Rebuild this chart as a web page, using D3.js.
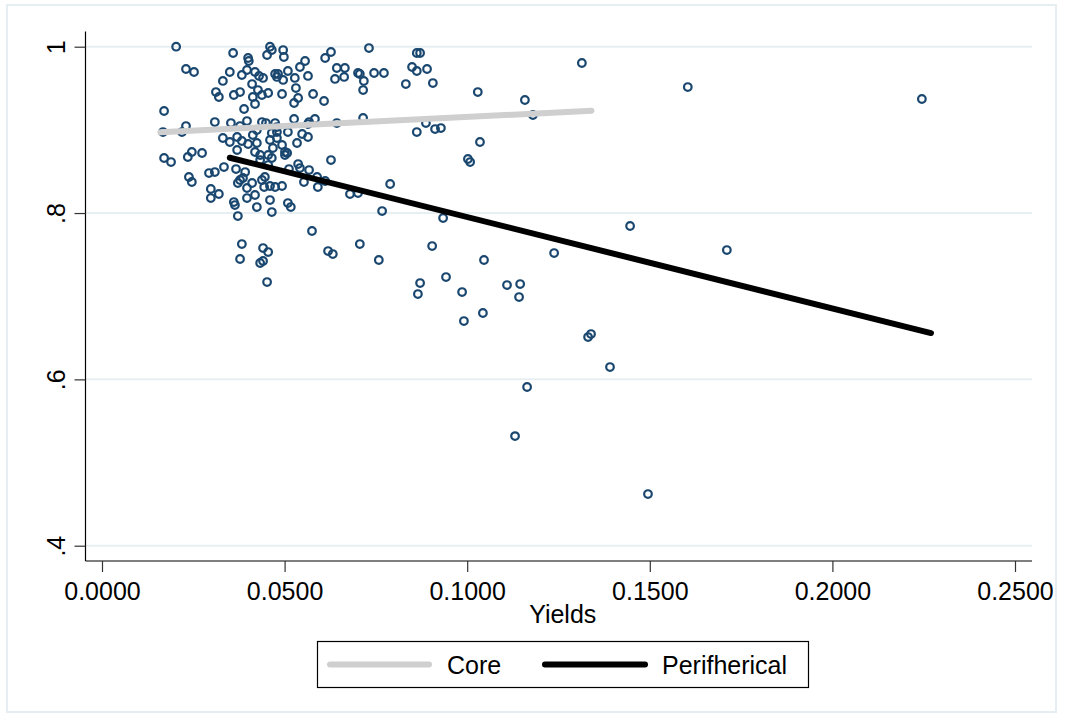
<!DOCTYPE html>
<html>
<head>
<meta charset="utf-8">
<script src="https://cdn.jsdelivr.net/npm/d3@7"></script>
<style>
  html, body { margin: 0; padding: 0; background: #ffffff; }
  svg { display: block; font-family: "Liberation Sans", Arial, Helvetica, sans-serif; }
</style>
</head>
<body>
<svg id="chart" width="1074" height="720"></svg>
<script>
// ---------------- data ----------------
const pointYields = [
  0.0203,0.0359,0.0400,0.0402,0.0460,0.0465,0.0452,0.0496,0.0498,0.0556,
  0.0542,0.0611,0.0627,0.0731,0.0230,0.0252,0.0350,0.0331,0.0383,0.0397,
  0.0419,0.0430,0.0441,0.0411,0.0427,0.0413,0.0438,0.0455,0.0474,0.0482,
  0.0479,0.0509,0.0496,0.0528,0.0564,0.0643,0.0665,0.0663,0.0638,0.0706,
  0.0701,0.0717,0.0715,0.0745,0.0772,0.0312,0.0320,0.0361,0.0378,0.0493,
  0.0531,0.0537,0.0526,0.0578,0.0608,0.0832,0.0862,0.0871,0.0849,0.0862,
  0.0890,0.0906,0.1314,0.1029,0.1604,0.2245,0.0389,0.0419,0.0170,
  0.0309,0.0230,0.0219,0.0167,0.0353,0.0378,0.0397,0.0438,0.0449,0.0474,
  0.0479,0.0526,0.0567,0.0583,0.0564,0.0643,0.0715,0.0331,0.0350,0.0370,
  0.0383,0.0400,0.0413,0.0424,0.0465,0.0460,0.0479,0.0479,0.0509,0.0548,
  0.0564,0.0370,0.0419,0.0433,0.0455,0.0424,0.0468,0.0493,0.0501,0.0534,
  0.0507,0.0170,0.0189,0.0235,0.0246,0.0274,0.0862,0.0887,0.0912,0.0928,
  0.1035,0.1002,0.1008,0.1158,0.1180,0.0627,0.0465,0.0501,
  0.0537,0.0542,0.0512,0.0567,0.0589,0.0591,0.0553,0.0611,0.0679,0.0701,
  0.0789,0.0474,0.0493,0.0238,0.0246,0.0293,0.0309,0.0334,0.0298,0.0298,
  0.0320,0.0367,0.0378,0.0392,0.0386,0.0372,0.0397,0.0419,0.0397,0.0411,
  0.0438,0.0444,0.0460,0.0446,0.0455,0.0433,0.0361,0.0364,0.0372,0.0424,
  0.0460,0.0465,0.0509,0.0517,0.0767,0.0934,0.1446,0.0575,0.0383,0.0378,
  0.0441,0.0455,0.0441,0.0433,0.0452,0.0619,0.0632,0.0706,0.0758,0.0904,
  0.1046,0.1238,0.1711,0.0871,0.0865,0.0942,0.0986,0.1109,0.1145,0.1142,
  0.1043,0.0991,0.1331,0.1339,0.1391,0.1164,0.1131,0.1495
];
const pointValues = [
  1.000,0.9924,0.9864,0.9828,1.000,0.9960,0.9900,0.9960,0.9876,0.9828,
  0.9756,0.9864,0.9936,0.9984,0.9732,0.9696,0.9696,0.9588,0.9660,0.9720,
  0.9696,0.9648,0.9624,0.9551,0.9479,0.9395,0.9419,0.9443,0.9672,0.9672,
  0.9636,0.9708,0.9600,0.9624,0.9648,0.9744,0.9744,0.9636,0.9612,0.9672,
  0.9684,0.9588,0.9479,0.9684,0.9684,0.9455,0.9395,0.9419,0.9455,0.9431,
  0.9503,0.9383,0.9323,0.9431,0.9347,0.9551,0.9924,0.9924,0.9756,0.9708,
  0.9732,0.9563,0.9804,0.9455,0.9515,0.9371,0.9251,0.9311,0.9227,
  0.9094,0.9046,0.8974,0.8974,0.9082,0.9046,0.9106,0.9094,0.9082,0.9082,
  0.9034,0.9131,0.9094,0.9131,0.9070,0.9082,0.9143,0.8902,0.8854,0.8914,
  0.8866,0.8830,0.8938,0.8998,0.8962,0.8878,0.8902,0.8974,0.8974,0.8950,
  0.8914,0.8758,0.8734,0.8698,0.8698,0.8842,0.8782,0.8818,0.8734,0.8842,
  0.8722,0.8662,0.8613,0.8674,0.8734,0.8722,0.8974,0.9082,0.9010,0.9022,
  0.8854,0.8650,0.8613,0.9359,0.9179,0.8637,0.8662,0.8698,
  0.8589,0.8541,0.8529,0.8517,0.8433,0.8313,0.8373,0.8385,0.8229,0.8241,
  0.8349,0.8313,0.8325,0.8433,0.8373,0.8481,0.8493,0.8553,0.8289,0.8180,
  0.8229,0.8529,0.8397,0.8493,0.8421,0.8361,0.8301,0.8217,0.8180,0.8361,
  0.8397,0.8313,0.8325,0.8433,0.8577,0.8637,0.8132,0.8096,0.7964,0.8072,
  0.8156,0.8012,0.8120,0.8072,0.8024,0.7940,0.7844,0.7784,0.7627,0.7447,
  0.7579,0.7531,0.7423,0.7399,0.7170,0.7543,0.7507,0.7627,0.7435,0.7603,
  0.7435,0.7519,0.7555,0.7158,0.7026,0.7230,0.7050,0.7134,0.7146,0.6990,
  0.6798,0.6701,0.6509,0.6545,0.6148,0.5908,0.5318,0.4621
];

const seriesNames = ["Core", "Perifherical"];
const coreLineX = [0.0160, 0.1340];
const coreLineY = [0.8971, 0.9230];
const periphLineX = [0.0350, 0.2270];
const periphLineY = [0.8665, 0.6557];

const xTickValues = [0, 0.05, 0.10, 0.15, 0.20, 0.25];
const xTickLabels = ["0.0000", "0.0500", "0.1000", "0.1500", "0.2000", "0.2500"];
const yTickValues = [0.4, 0.6, 0.8, 1.0];
const yTickLabels = [".4", ".6", ".8", "1"];
const xAxisTitle = "Yields";

// ---------------- layout ----------------
const plot = { left: 85.5, right: 1032, top: 31.5, bottom: 561 };
const markerColor = "#1a476f";
const coreColor = "#cfcfcf";
const periphColor = "#000000";
const gridColor = "#e8eff2";
const fontSize = 25;

const svg = d3.select("#chart");

// outer frame
svg.append("rect")
  .attr("x", 7).attr("y", 5).attr("width", 1049).attr("height", 707)
  .attr("fill", "#ffffff").attr("stroke", "#e6eef2").attr("stroke-width", 2);

const x = d3.scaleLinear().domain([0, 0.25]).range([102, 1015]);
const y = d3.scaleLinear().domain([0.4, 1.0]).range([545.7, 46.7]);

// gridlines
svg.append("g").selectAll("line")
  .data(yTickValues).join("line")
  .attr("x1", plot.left).attr("x2", plot.right)
  .attr("y1", d => y(d)).attr("y2", d => y(d))
  .attr("stroke", gridColor).attr("stroke-width", 2);

// axes lines
svg.append("line")
  .attr("x1", plot.left).attr("x2", plot.left)
  .attr("y1", plot.top).attr("y2", plot.bottom)
  .attr("stroke", "#000").attr("stroke-width", 1.2);
svg.append("line")
  .attr("x1", plot.left).attr("x2", plot.right)
  .attr("y1", plot.bottom).attr("y2", plot.bottom)
  .attr("stroke", "#000").attr("stroke-width", 1.2);

// x axis
const xAxis = d3.axisBottom(x)
  .tickValues(xTickValues)
  .tickFormat((d, i) => xTickLabels[i])
  .tickSize(11).tickPadding(4).tickSizeOuter(0);
const gx = svg.append("g")
  .attr("transform", `translate(0,${plot.bottom})`)
  .call(xAxis);
gx.select(".domain").remove();
gx.selectAll(".tick line").attr("stroke", "#333").attr("stroke-width", 1.2);
gx.selectAll(".tick text")
  .attr("font-size", fontSize).attr("fill", "#000")
  .attr("font-family", "Liberation Sans, Arial, sans-serif")
  .attr("dy", null).attr("y", 39);

// y axis
const yAxis = d3.axisLeft(y)
  .tickValues(yTickValues)
  .tickFormat((d, i) => yTickLabels[i])
  .tickSize(11).tickSizeOuter(0);
const gy = svg.append("g")
  .attr("transform", `translate(${plot.left},0)`)
  .call(yAxis);
gy.select(".domain").remove();
gy.selectAll(".tick line").attr("stroke", "#333").attr("stroke-width", 1.2);
gy.selectAll(".tick text")
  .attr("font-size", fontSize).attr("fill", "#000")
  .attr("font-family", "Liberation Sans, Arial, sans-serif")
  .attr("x", null).attr("dy", null)
  .attr("text-anchor", "middle")
  .attr("transform", "translate(-21,0) rotate(-90)");

// axis title
svg.append("text")
  .attr("x", (plot.left + plot.right) / 2 + 4)
  .attr("y", 623)
  .attr("text-anchor", "middle")
  .attr("font-size", fontSize)
  .attr("fill", "#000")
  .text(xAxisTitle);

// scatter points
const pts = d3.zip(pointYields, pointValues);
svg.append("g").selectAll("circle")
  .data(pts).join("circle")
  .attr("cx", d => x(d[0]))
  .attr("cy", d => y(d[1]))
  .attr("r", 3.8)
  .attr("fill", "none")
  .attr("stroke", markerColor)
  .attr("stroke-width", 2.2);

// fitted lines
const line = d3.line().x(d => x(d[0])).y(d => y(d[1]));
svg.append("path")
  .datum(d3.zip(coreLineX, coreLineY))
  .attr("d", line)
  .attr("fill", "none").attr("stroke", coreColor)
  .attr("stroke-width", 6).attr("stroke-linecap", "round");
svg.append("path")
  .datum(d3.zip(periphLineX, periphLineY))
  .attr("d", line)
  .attr("fill", "none").attr("stroke", periphColor)
  .attr("stroke-width", 6).attr("stroke-linecap", "round");

// legend
const lg = svg.append("g");
lg.append("rect")
  .attr("x", 317.5).attr("y", 641.5).attr("width", 491).attr("height", 46)
  .attr("fill", "#fff").attr("stroke", "#000").attr("stroke-width", 1.2);
const legendItems = [
  { name: seriesNames[0], color: coreColor, x1: 330, x2: 429, tx: 447 },
  { name: seriesNames[1], color: periphColor, x1: 545, x2: 645, tx: 662 }
];
legendItems.forEach(it => {
  lg.append("line")
    .attr("x1", it.x1).attr("x2", it.x2).attr("y1", 664.5).attr("y2", 664.5)
    .attr("stroke", it.color).attr("stroke-width", 6).attr("stroke-linecap", "round");
  lg.append("text")
    .attr("x", it.tx).attr("y", 673.5)
    .attr("font-size", fontSize).attr("fill", "#000")
    .text(it.name);
});
</script>
</body>
</html>
